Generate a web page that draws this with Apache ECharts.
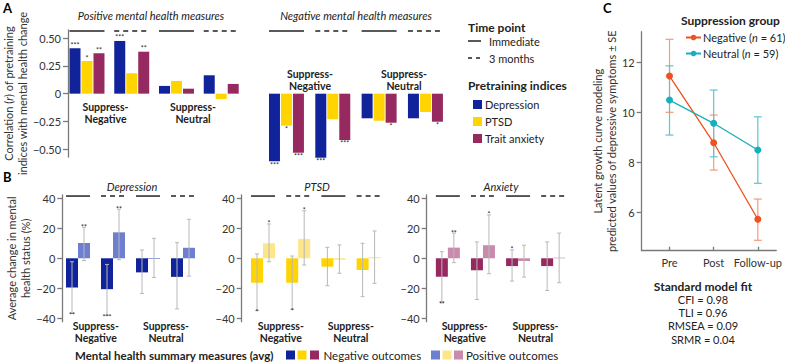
<!DOCTYPE html>
<html>
<head>
<meta charset="utf-8">
<script src="https://cdn.jsdelivr.net/npm/echarts@6/dist/echarts.min.js"></script>
<style>
  html, body { margin: 0; padding: 0; background: #fff; }
  #chart { width: 785px; height: 362px; }
</style>
</head>
<body>
<div id="chart"></div>
<script>
// ---- panel A: correlations ----
const timePoints = ['Immediate', '3 months', 'Immediate', '3 months']
const indexNames = ['Depression', 'PTSD', 'Trait anxiety']
const posDepression = [0.41, 0.476, 0.07, 0.166]
const posPtsd = [0.295, 0.184, 0.115, -0.048]
const posTrait = [0.365, 0.379, 0.045, 0.088]
const posDepressionSig = ['***', '***', '', '']
const posPtsdSig = ['*', '', '', '']
const posTraitSig = ['**', '**', '', '']
const negDepression = [-0.61, -0.578, -0.222, -0.222]
const negPtsd = [-0.289, -0.231, -0.244, -0.165]
const negTrait = [-0.533, -0.418, -0.262, -0.253]
const negDepressionSig = ['***', '***', '', '']
const negPtsdSig = ['*', '', '', '']
const negTraitSig = ['***', '***', '*', '*']
const corrTicks = [-0.5, -0.25, 0, 0.25, 0.5]

// ---- panel B: average change (%) ----
const changeTicks = [-40, -20, 0, 20, 40]
const depNeg = [-19.5, -20.6, -9.4, -12.4]
const depNegLow = [-36.9, -38, -23.5, -33.8]
const depNegHigh = [-2.3, -4.1, 5.5, 10.4]
const depPos = [10.2, 17.3, -0.5, 7]
const depPosLow = [-1.5, -1, -12.8, -11.9]
const depPosHigh = [20.7, 32.7, 13.3, 26]
const depNegSig = ['**', '***', '', '']
const depPosSig = ['**', '**', '', '']
const ptsdNeg = [-16.3, -16.3, -5.6, -7.8]
const ptsdNegLow = [-34.9, -34, -18.3, -25.6]
const ptsdNegHigh = [2.9, 1.5, 7.3, 10]
const ptsdPos = [10, 12.9, -1, 0.8]
const ptsdPosLow = [-2.3, -4.5, -10, -16.7]
const ptsdPosHigh = [22.9, 31.7, 8.9, 18.2]
const ptsdNegSig = ['*', '*', '', '']
const ptsdPosSig = ['*', '*', '', '']
const anxNeg = [-12.3, -8, -5.2, -5.2]
const anxNegLow = [-29.8, -27.5, -15.2, -21.5]
const anxNegHigh = [4.4, 10.9, 5.6, 10.9]
const anxPos = [7.1, 8.7, -1.8, 0.4]
const anxPosLow = [-2.9, -10.3, -12.5, -16.3]
const anxPosHigh = [16.8, 28.9, 8.7, 16.8]
const anxNegSig = ['**', '', '*', '']
const anxNegSigAbove = [false, false, true, false]
const anxPosSig = ['**', '*', '', '']

// ---- panel C: growth curve ----
const visits = ['Pre', 'Post', 'Follow-up']
const negGroupMean = [11.45, 8.78, 5.72]
const negGroupLow = [10.0, 7.69, 4.88]
const negGroupHigh = [12.92, 9.89, 6.53]
const neuGroupMean = [10.49, 9.56, 8.49]
const neuGroupLow = [9.09, 8.22, 7.16]
const neuGroupHigh = [11.86, 10.89, 9.82]
const symptomTicks = [6, 8, 10, 12]
const fitLines = ['CFI = 0.98', 'TLI = 0.96', 'RMSEA = 0.09', 'SRMR = 0.04']

const FONT = 'Lato, "Open Sans", sans-serif'
const darkColors = ['#10239a', '#ffd400', '#962a60']
const lightColors = ['#6f7fcf', '#fde68a', '#c98aad']
const AXIS = { lineStyle: { color: '#7a7a7a', width: 1.3 } }
const ERR = '#b8b8b8'
const BAR_A = 11
const BAR_B = 12

const chart = echarts.init(document.getElementById('chart'), null, { renderer: 'svg' })

function txt(x, y, text, font, align, extra) {
  return {
    type: 'text', x: x, y: y, silent: true,
    style: Object.assign({ text: text, font: font, fill: '#222', align: align || 'center', verticalAlign: 'middle' }, extra || {})
  }
}

// solid / dashed time-point line above each bar group
function groupLines(axisIdx, level, width) {
  return {
    type: 'custom', xAxisIndex: axisIdx, yAxisIndex: axisIdx, silent: true,
    data: timePoints.map((t, i) => [i, level, t === 'Immediate' ? 0 : 1]),
    renderItem: (params, api) => {
      const c = api.coord([api.value(0), api.value(1)])
      return {
        type: 'line',
        shape: { x1: c[0] - width / 2, y1: c[1], x2: c[0] + width / 2, y2: c[1] },
        style: { stroke: '#222', lineWidth: 1.5, lineDash: api.value(2) ? [5, 4] : null }
      }
    }
  }
}

function barsA(axisIdx, values, sig, k) {
  return {
    name: indexNames[k], type: 'bar', xAxisIndex: axisIdx, yAxisIndex: axisIdx,
    barWidth: BAR_A, barGap: '9%',
    itemStyle: { color: darkColors[k] },
    label: {
      show: true, fontSize: 7, color: '#222', distance: 0,
      formatter: p => sig[p.dataIndex]
    },
    data: values.map(v => ({ value: v, label: { position: v < 0 ? 'bottom' : 'top' } }))
  }
}

const bPanels = [
  { neg: depNeg, negLow: depNegLow, negHigh: depNegHigh, pos: depPos, posLow: depPosLow, posHigh: depPosHigh, negSig: depNegSig, posSig: depPosSig, above: [false, false, false, false] },
  { neg: ptsdNeg, negLow: ptsdNegLow, negHigh: ptsdNegHigh, pos: ptsdPos, posLow: ptsdPosLow, posHigh: ptsdPosHigh, negSig: ptsdNegSig, posSig: ptsdPosSig, above: [false, false, false, false] },
  { neg: anxNeg, negLow: anxNegLow, negHigh: anxNegHigh, pos: anxPos, posLow: anxPosLow, posHigh: anxPosHigh, negSig: anxNegSig, posSig: anxPosSig, above: anxNegSigAbove }
]

function errorBarsB(axisIdx, p) {
  const rows = []
  p.neg.forEach((v, i) => rows.push([i, p.negLow[i], p.negHigh[i], -1, p.negSig[i], p.above[i]]))
  p.pos.forEach((v, i) => rows.push([i, p.posLow[i], p.posHigh[i], 1, p.posSig[i], true]))
  return {
    type: 'custom', xAxisIndex: axisIdx, yAxisIndex: axisIdx, silent: true, z: 4,
    data: rows.map(r => r.slice(0, 4)),
    renderItem: (params, api) => {
      const r = rows[params.dataIndex]
      const lo = api.coord([api.value(0), api.value(1)])
      const hi = api.coord([api.value(0), api.value(2)])
      const x = lo[0] + api.value(3) * BAR_B / 2
      const st = { stroke: ERR, lineWidth: 1 }
      const kids = [
        { type: 'line', shape: { x1: x, y1: lo[1], x2: x, y2: hi[1] }, style: st },
        { type: 'line', shape: { x1: x - 2, y1: lo[1], x2: x + 2, y2: lo[1] }, style: st },
        { type: 'line', shape: { x1: x - 2, y1: hi[1], x2: x + 2, y2: hi[1] }, style: st }
      ]
      if (r[4]) {
        kids.push({
          type: 'text', x: x, y: r[5] ? hi[1] + 3 : lo[1] - 2,
          style: { text: r[4], font: '7px ' + FONT, fill: '#222', align: 'center', verticalAlign: r[5] ? 'bottom' : 'top' }
        })
      }
      return { type: 'group', children: kids }
    }
  }
}

function errorBarsC() {
  const rows = []
  visits.forEach((v, i) => rows.push([i, negGroupLow[i], negGroupHigh[i], 0]))
  visits.forEach((v, i) => rows.push([i, neuGroupLow[i], neuGroupHigh[i], 1]))
  const cols = ['#f59a7c', '#5cc6d2']
  return {
    type: 'custom', xAxisIndex: 5, yAxisIndex: 5, silent: true, z: 1,
    data: rows,
    renderItem: (params, api) => {
      const lo = api.coord([api.value(0), api.value(1)])
      const hi = api.coord([api.value(0), api.value(2)])
      const st = { stroke: cols[api.value(3)], lineWidth: 1.2 }
      return {
        type: 'group', children: [
          { type: 'line', shape: { x1: lo[0], y1: lo[1], x2: hi[0], y2: hi[1] }, style: st },
          { type: 'line', shape: { x1: lo[0] - 4, y1: lo[1], x2: lo[0] + 4, y2: lo[1] }, style: st },
          { type: 'line', shape: { x1: hi[0] - 4, y1: hi[1], x2: hi[0] + 4, y2: hi[1] }, style: st }
        ]
      }
    }
  }
}

const labelStyle = { fontSize: 11, color: '#333', fontFamily: FONT }
const signFmt = v => (v === 0 ? '0' : String(v).replace('-', '\u2212'))

function yAxisB(idx, offset, named) {
  const ax = {
    type: 'value', gridIndex: idx, min: -42.3, max: 42.2, offset: offset,
    axisLine: Object.assign({ show: true }, AXIS),
    axisTick: { show: true, length: 5, customValues: changeTicks, lineStyle: AXIS.lineStyle },
    axisLabel: Object.assign({ customValues: changeTicks, margin: 7, formatter: signFmt }, labelStyle),
    splitLine: { show: false }
  }
  if (named) {
    Object.assign(ax, {
      name: 'Average change in mental\nhealth status (%)', nameLocation: 'middle', nameGap: 29,
      nameTextStyle: { fontSize: 11, color: '#333', fontFamily: FONT, lineHeight: 14 }
    })
  }
  return ax
}

const series = [
  barsA(0, posDepression, posDepressionSig, 0),
  barsA(0, posPtsd, posPtsdSig, 1),
  barsA(0, posTrait, posTraitSig, 2),
  barsA(1, negDepression, negDepressionSig, 0),
  barsA(1, negPtsd, negPtsdSig, 1),
  barsA(1, negTrait, negTraitSig, 2),
  groupLines(0, 0.565, 3 * BAR_A + 2),
  groupLines(1, 0.565, 3 * BAR_A + 2)
]
bPanels.forEach((p, k) => {
  const ax = 2 + k
  series.push({
    name: indexNames[k] + ' negative outcomes', type: 'bar', xAxisIndex: ax, yAxisIndex: ax,
    barWidth: BAR_B, barGap: 0, itemStyle: { color: darkColors[k] }, data: p.neg
  })
  series.push({
    name: indexNames[k] + ' positive outcomes', type: 'bar', xAxisIndex: ax, yAxisIndex: ax,
    barWidth: BAR_B, barGap: 0, itemStyle: { color: lightColors[k] }, data: p.pos
  })
  series.push(errorBarsB(ax, p))
  series.push(groupLines(ax, 41.5, 2 * BAR_B))
})
series.push(errorBarsC())
series.push({
  name: 'Negative', type: 'line', xAxisIndex: 5, yAxisIndex: 5, z: 3,
  symbol: 'circle', symbolSize: 7, color: '#f0511f', lineStyle: { width: 1.3 },
  data: negGroupMean.map((v, i) => [i, v])
})
series.push({
  name: 'Neutral', type: 'line', xAxisIndex: 5, yAxisIndex: 5, z: 3,
  symbol: 'circle', symbolSize: 7, color: '#17aebd', lineStyle: { width: 1.3 },
  data: neuGroupMean.map((v, i) => [i, v])
})

const graphic = [
  txt(3, 8, 'A', 'bold 13px ' + FONT, 'left', { fill: '#000' }),
  txt(3, 177, 'B', 'bold 13px ' + FONT, 'left', { fill: '#000' }),
  txt(603, 8, 'C', 'bold 13px ' + FONT, 'left', { fill: '#000' }),
  txt(151, 15, 'Positive mental health measures', 'italic 11px ' + FONT),
  txt(356, 15, 'Negative mental health measures', 'italic 11px ' + FONT),
  txt(105.5, 113, 'Suppress-\nNegative', 'bold 10.5px ' + FONT, 'center', { lineHeight: 12 }),
  txt(193, 113, 'Suppress-\nNeutral', 'bold 10.5px ' + FONT, 'center', { lineHeight: 12 }),
  txt(310, 80, 'Suppress-\nNegative', 'bold 10.5px ' + FONT, 'center', { lineHeight: 12 }),
  txt(404, 80, 'Suppress-\nNeutral', 'bold 10.5px ' + FONT, 'center', { lineHeight: 12 }),
  txt(468, 27, 'Time point', 'bold 12px ' + FONT, 'left'),
  { type: 'line', silent: true, shape: { x1: 468, y1: 41, x2: 481, y2: 41 }, style: { stroke: '#222', lineWidth: 1.5 } },
  txt(489, 41, 'Immediate', '11px ' + FONT, 'left'),
  { type: 'line', silent: true, shape: { x1: 468, y1: 58, x2: 481, y2: 58 }, style: { stroke: '#222', lineWidth: 1.5, lineDash: [4, 4] } },
  txt(489, 58, '3 months', '11px ' + FONT, 'left'),
  txt(468, 85, 'Pretraining indices', 'bold 12px ' + FONT, 'left'),
  txt(132, 186, 'Depression', 'italic 11px ' + FONT),
  txt(317, 186, 'PTSD', 'italic 11px ' + FONT),
  txt(501, 186, 'Anxiety', 'italic 11px ' + FONT),
  txt(75, 355, 'Mental health summary measures (avg)', 'bold 11.5px ' + FONT, 'left'),
  txt(323.5, 355, 'Negative outcomes', '11.5px ' + FONT, 'left'),
  txt(466, 355, 'Positive outcomes', '11.5px ' + FONT, 'left'),
  txt(681, 20, 'Suppression group', 'bold 12px ' + FONT, 'left'),
  txt(703, 286, 'Standard model fit', 'bold 12px ' + FONT)
]
;[95.8, 166, 280.8, 350.8, 464.7, 535.5].forEach((x, i) => {
  graphic.push(txt(x, 332, 'Suppress-\n' + (i % 2 ? 'Neutral' : 'Negative'), 'bold 10.5px ' + FONT, 'center', { lineHeight: 12 }))
})
;[286, 297.5, 310].forEach((x, k) => {
  graphic.push({ type: 'rect', silent: true, shape: { x: x, y: 350.5, width: 9, height: 9 }, style: { fill: darkColors[k] } })
})
;[431, 442.5, 454].forEach((x, k) => {
  graphic.push({ type: 'rect', silent: true, shape: { x: x, y: 350.5, width: 9, height: 9 }, style: { fill: lightColors[k] } })
})
fitLines.forEach((t, i) => graphic.push(txt(703, 299.5 + i * 13.2, t, '11px ' + FONT)))

const hiddenX = idx => ({ type: 'category', gridIndex: idx, data: timePoints, show: false })

chart.setOption({
  animation: false,
  textStyle: { fontFamily: FONT },
  grid: [
    { left: 58.9, top: 30, width: 184.7, height: 127 },
    { left: 263.3, top: 30, width: 185.3, height: 136.8 },
    { left: 60.5, top: 195, width: 140, height: 126.7 },
    { left: 245.4, top: 195, width: 140.8, height: 126.7 },
    { left: 430.3, top: 195, width: 140.4, height: 126.7 },
    { left: 641.7, top: 31.7, width: 135, height: 219 }
  ],
  legend: [
    {
      data: indexNames, left: 468, top: 94, orient: 'vertical', icon: 'rect',
      itemWidth: 9, itemHeight: 9, itemGap: 6, selectedMode: false,
      textStyle: { fontSize: 11, color: '#222', fontFamily: FONT, padding: [0, 0, 0, -2] }
    },
    {
      data: ['Negative', 'Neutral'], left: 680, top: 27, orient: 'vertical',
      itemWidth: 15, itemHeight: 7, itemGap: 5, selectedMode: false,
      formatter: n => (n === 'Negative' ? 'Negative ({i|n} = 61)' : 'Neutral ({i|n} = 59)'),
      textStyle: {
        fontSize: 11, color: '#222', fontFamily: FONT, padding: [0, 0, 0, -3],
        rich: { i: { fontStyle: 'italic', fontSize: 11, fontFamily: FONT } }
      }
    }
  ],
  xAxis: [
    hiddenX(0), hiddenX(1), hiddenX(2), hiddenX(3), hiddenX(4),
    {
      type: 'value', gridIndex: 5, min: -0.63, max: 2.417,
      axisLine: Object.assign({ show: true, onZero: false }, AXIS),
      axisTick: { show: true, inside: true, length: 4, customValues: [0, 1, 2], lineStyle: AXIS.lineStyle },
      axisLabel: Object.assign({ customValues: [0, 1, 2], margin: 6, formatter: v => visits[v] }, labelStyle),
      splitLine: { show: false }
    }
  ],
  yAxis: [
    {
      type: 'value', gridIndex: 0, min: -0.572, max: 0.575, offset: -3.4,
      axisLine: Object.assign({ show: true }, AXIS),
      axisTick: { show: true, length: 5, customValues: corrTicks, lineStyle: AXIS.lineStyle },
      axisLabel: Object.assign({
        customValues: corrTicks, margin: 7,
        formatter: v => (v === 0 ? '0' : v.toFixed(2).replace('-', '\u2212'))
      }, labelStyle),
      splitLine: { show: false },
      name: 'Correlation ({i|r}) of pretraining\nindices with mental health change',
      nameLocation: 'middle', nameGap: 30,
      nameTextStyle: {
        fontSize: 11, color: '#333', fontFamily: FONT, lineHeight: 14,
        rich: { i: { fontStyle: 'italic', fontSize: 11, color: '#333', fontFamily: FONT } }
      }
    },
    { type: 'value', gridIndex: 1, min: -0.66, max: 0.575, show: false },
    yAxisB(2, -1.8, true),
    yAxisB(3, 3.7, false),
    yAxisB(4, 3.6, false),
    {
      type: 'value', gridIndex: 5, min: 4.464, max: 13.224,
      axisLine: Object.assign({ show: true, onZero: false }, AXIS),
      axisTick: { show: true, length: 5, customValues: symptomTicks, lineStyle: AXIS.lineStyle },
      axisLabel: Object.assign({ customValues: symptomTicks, margin: 7 }, labelStyle),
      splitLine: { show: false },
      name: 'Latent growth curve modeling\npredicted values of depressive symptoms \u00b1 SE',
      nameLocation: 'middle', nameGap: 21,
      nameTextStyle: { fontSize: 11, color: '#333', fontFamily: FONT, lineHeight: 14 }
    }
  ],
  graphic: graphic,
  series: series
})
</script>
</body>
</html>
